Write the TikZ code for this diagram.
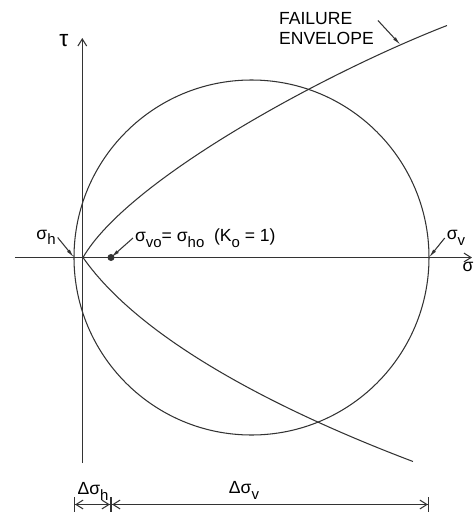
\documentclass[tikz,border=0pt]{standalone}
\usepackage{fontspec}
\setmainfont{Liberation Sans}
\usepackage{tikz}
\usetikzlibrary{arrows.meta}
\newcommand{\lowsub}[1]{\raisebox{-0.6ex}{\fontsize{8.5}{10}\selectfont #1}}

\begin{document}
\begin{tikzpicture}[
    x=0.02cm, y=0.02cm,
    curve/.style={line width=0.6pt, black!80},
    axis/.style={line width=0.6pt, black!80, -{Straight Barb[length=4pt,width=5pt]}},
    leader/.style={line width=0.6pt, black!80, -{Latex[length=5pt,width=2pt]}},
    lbl/.style={font=\fontsize{10}{11}\selectfont, inner sep=1pt},
    dimline/.style={line width=0.6pt, black!80,
        {Bar[width=8pt]Straight Barb[length=4pt,width=5pt]}-{Straight Barb[length=4pt,width=5pt]Bar[width=8pt]}}
]
\useasboundingbox (-82,-254.5) rectangle (392,257.5);
% Axes
\draw[axis] (-67,0) -- (390,0);
\draw[axis] (0.3,-205.5) -- (0.3,219.5);
\node[lbl, font=\fontsize{13}{14}\selectfont] (tau) at (-18,217) {τ};
\node[lbl] (sigma) at (386,-9) {σ};

% Mohr circle
\draw[curve] (169.5,0) circle[radius=177.5];
\coordinate (sh) at (-8,0);
\coordinate (sv) at (347,0);
\coordinate (s0) at (29,0);
\fill[black!80] (s0) circle[radius=3.5];

% Failure envelope
\draw[curve] (1,0) .. controls (46,78) and (244,185) .. coordinate[pos=0.88] (fe) (365,232);
\draw[curve] (1,0) .. controls (64,-90) and (219,-161.6) .. (331,-204);

% Labels
\node[lbl, align=left, anchor=west] (fail) at (195,229) {FAILURE\\ENVELOPE};
\draw[leader] ([shift={(2,8)}]fail.east) -- (fe);
\node[lbl] (shl) at (-36,20) {σ\lowsub{h}};
\draw[leader] (shl.east) -- (sh);
\node[lbl, anchor=west] (s0l) at (51,19.5) {σ\lowsub{vo}= σ\lowsub{ho} \ (K\lowsub{o} = 1)};
\draw[leader] (s0l.west) -- (s0);
\node[lbl] (svl) at (374,19.5) {σ\lowsub{v}};
\draw[leader] (svl.west) -- (sv);

% Increments
\coordinate (dh) at (-8,-247);
\coordinate (d0) at (29,-247);
\coordinate (dv) at (347,-247);
\draw[dimline] (dh) -- (d0);
\draw[dimline] (d0) -- (dv);
\node[lbl] (dhl) at (11,-234) {Δσ\lowsub{h}};
\node[lbl] (dvl) at (162,-233) {Δσ\lowsub{v}};
\end{tikzpicture}
\end{document}
